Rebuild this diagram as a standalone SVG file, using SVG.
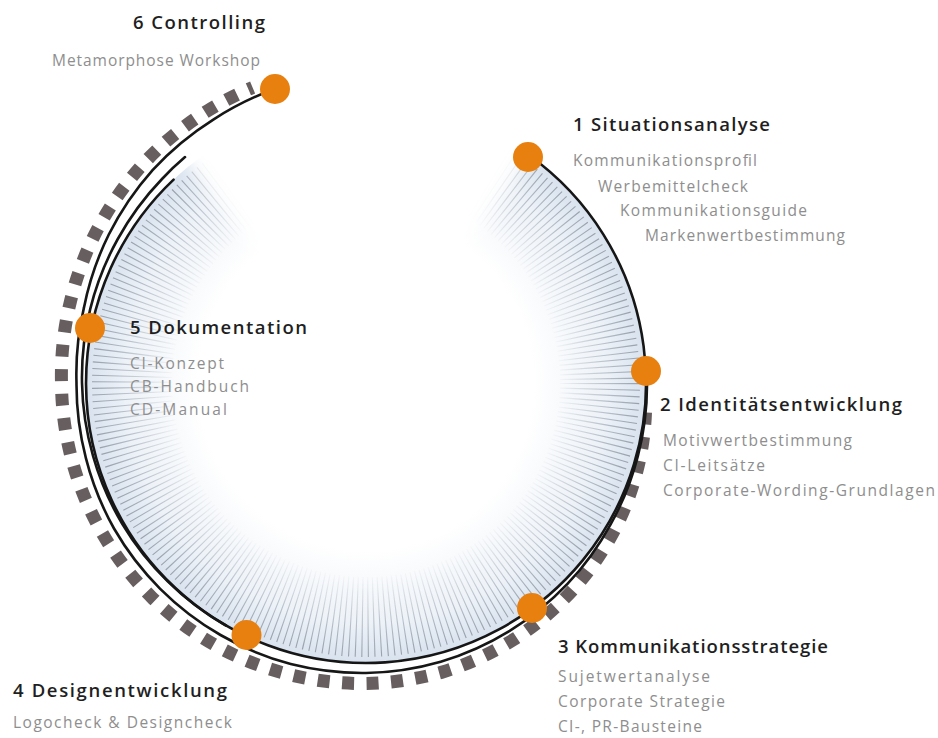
<svg xmlns="http://www.w3.org/2000/svg" width="938" height="738" viewBox="0 0 938 738">
<style>
.t{font-family:"Open Sans","Liberation Sans",sans-serif;font-weight:600;font-size:18.5px;fill:#1f1f1f}
.s{font-family:"Open Sans","Liberation Sans",sans-serif;font-size:15.5px;fill:#8e8e8e}
.ln{fill:none;stroke:#161616;stroke-width:2.6;stroke-linecap:round}
.dot{fill:#e8800f}
</style>
<defs>
<radialGradient id="tint" gradientUnits="userSpaceOnUse" cx="366" cy="383" r="280">
<stop offset="0.6" stop-color="#ffffff"/>
<stop offset="0.86" stop-color="#edf2f8"/>
<stop offset="1" stop-color="#d8e2ee"/>
</radialGradient>
<radialGradient id="fade" gradientUnits="userSpaceOnUse" cx="366" cy="383" r="280">
<stop offset="0.68" stop-color="#000"/>
<stop offset="0.98" stop-color="#fff"/>
</radialGradient>
<filter id="soft" x="-0.2" y="-0.2" width="1.4" height="1.4">
<feGaussianBlur stdDeviation="9"/>
</filter>
<mask id="tickMask" maskUnits="userSpaceOnUse" x="0" y="0" width="938" height="738">
<rect width="938" height="738" fill="url(#fade)"/>
</mask>
<mask id="gapMask" maskUnits="userSpaceOnUse" x="0" y="0" width="938" height="738">
<rect width="938" height="738" fill="#fff"/>
<polygon points="366,383 110,70 366,-30 600,60" fill="#000" filter="url(#soft)"/>
</mask>
</defs>
<rect width="938" height="738" fill="#ffffff"/>
<g id="decor">
<path id="dashes" d="M645.5,412.4 A282.5,282.5 0 0 1 640.3,456.5 A286,286 0 0 1 615.8,527.3 A290.5,290.5 0 0 1 572.8,589.8 A294,294 0 0 1 514,639.3 A297.5,297.5 0 0 1 443.4,671.8 A300,300 0 0 1 366,683.5 A301,301 0 0 1 288,674.2 A302,302 0 0 1 214.7,645 A303,303 0 0 1 151.7,597.3 A303,303 0 0 1 103.2,534.8 A304,304 0 0 1 72.4,461.7 A304,304 0 0 1 61.5,383 A305.5,305.5 0 0 1 69.9,303.7 A308,308 0 0 1 98,228.2 A311,311 0 0 1 145,162 A314,314 0 0 1 208.5,110.2 A316,316 0 0 1 252.6,87.5" fill="none" stroke="#675e5f" stroke-width="13" stroke-dasharray="12 12.5"/>
<path d="M366,383 L647,383 A281.5,281.5 0 0 1 637.9,455.9 A282,282 0 0 1 610.6,524.3 A283.5,283.5 0 0 1 567.2,584.2 A285.5,285.5 0 0 1 509.3,631.1 A287.5,287.5 0 0 1 440.7,661.7 A289,289 0 0 1 366,673 A290.5,290.5 0 0 1 290.7,664.1 A291,291 0 0 1 220.5,635 A291,291 0 0 1 160.2,588.8 A291,291 0 0 1 114,528.5 A290.5,290.5 0 0 1 85.9,458.1 A290,290 0 0 1 76.5,383 A291,291 0 0 1 84,307.4 A294.5,294.5 0 0 1 108.8,234.5 A299,299 0 0 1 152.8,169.8 A303,303 0 0 1 213.7,119.3 A306,306 0 0 1 274.9,88.8 Z" fill="#ffffff"/>
<g mask="url(#gapMask)">
<circle cx="366" cy="383" r="280" fill="url(#tint)"/>
<circle cx="366" cy="383" r="234" fill="none" stroke="#98a0ab" stroke-width="80" stroke-dasharray="1.1 4.6" mask="url(#tickMask)"/>
</g>
</g>
<g id="connectors">
<path class="ln" d="M529,155.3 A280,280 0 1 1 173.6,179.6"/>
<path class="ln" d="M226,625.5 A280,280 0 0 1 167.7,581.3 A281,281 0 0 1 122.2,523.8 A282,282 0 0 1 93.1,456.1 A283,283 0 0 1 82,383 A285,285 0 0 1 90.2,309.1 A286,286 0 0 1 117.5,239.5 A288,288 0 0 1 162,179 A289,289 0 0 1 185,157.1"/>
<path class="ln" d="M647,383 A281.5,281.5 0 0 1 637.9,455.9 A282,282 0 0 1 610.6,524.3 A283.5,283.5 0 0 1 567.2,584.2 A285.5,285.5 0 0 1 509.3,631.1 A287.5,287.5 0 0 1 440.7,661.7 A289,289 0 0 1 366,673 A290.5,290.5 0 0 1 290.7,664.1 A291,291 0 0 1 220.5,635 A291,291 0 0 1 160.2,588.8 A291,291 0 0 1 114,528.5 A290.5,290.5 0 0 1 85.9,458.1 A290,290 0 0 1 76.5,383 A291,291 0 0 1 84,307.4 A294.5,294.5 0 0 1 108.8,234.5 A299,299 0 0 1 152.8,169.8 A303,303 0 0 1 213.7,119.3 A306,306 0 0 1 274.9,88.8"/>
</g>
<g id="node1">
<circle class="dot" cx="528" cy="157" r="15"/>
<text class="t" x="573" y="131" textLength="197">1 Situationsanalyse</text>
<text class="s" x="573" y="166" textLength="184">Kommunikationsprofil</text>
<text class="s" x="598" y="192" textLength="150">Werbemittelcheck</text>
<text class="s" x="620" y="216" textLength="187">Kommunikationsguide</text>
<text class="s" x="645" y="241" textLength="200">Markenwertbestimmung</text>
</g>
<g id="node2">
<circle class="dot" cx="646" cy="371" r="15"/>
<text class="t" x="660" y="411" textLength="242">2 Identitätsentwicklung</text>
<text class="s" x="663" y="446" textLength="189">Motivwertbestimmung</text>
<text class="s" x="663" y="471" textLength="102">CI-Leitsätze</text>
<text class="s" x="663" y="496" textLength="272">Corporate-Wording-Grundlagen</text>
</g>
<g id="node3">
<circle class="dot" cx="532" cy="608" r="15"/>
<text class="t" x="558" y="653" textLength="270">3 Kommunikationsstrategie</text>
<text class="s" x="558" y="682" textLength="152">Sujetwertanalyse</text>
<text class="s" x="558" y="707" textLength="167">Corporate Strategie</text>
<text class="s" x="558" y="732" textLength="144">CI-, PR-Bausteine</text>
</g>
<g id="node4">
<circle class="dot" cx="246.5" cy="635" r="15"/>
<text class="t" x="13" y="697" textLength="214">4 Designentwicklung</text>
<text class="s" x="13" y="728" textLength="219">Logocheck &amp; Designcheck</text>
</g>
<g id="node5">
<circle class="dot" cx="90" cy="328" r="15"/>
<text class="t" x="130" y="334" textLength="177">5 Dokumentation</text>
<text class="s" x="130" y="369" textLength="94">CI-Konzept</text>
<text class="s" x="130" y="392" textLength="119">CB-Handbuch</text>
<text class="s" x="130" y="415" textLength="97">CD-Manual</text>
</g>
<g id="node6">
<circle class="dot" cx="275" cy="89" r="15"/>
<text class="t" x="133" y="29" textLength="132">6 Controlling</text>
<text class="s" x="52" y="66" textLength="208">Metamorphose Workshop</text>
</g>
</svg>
